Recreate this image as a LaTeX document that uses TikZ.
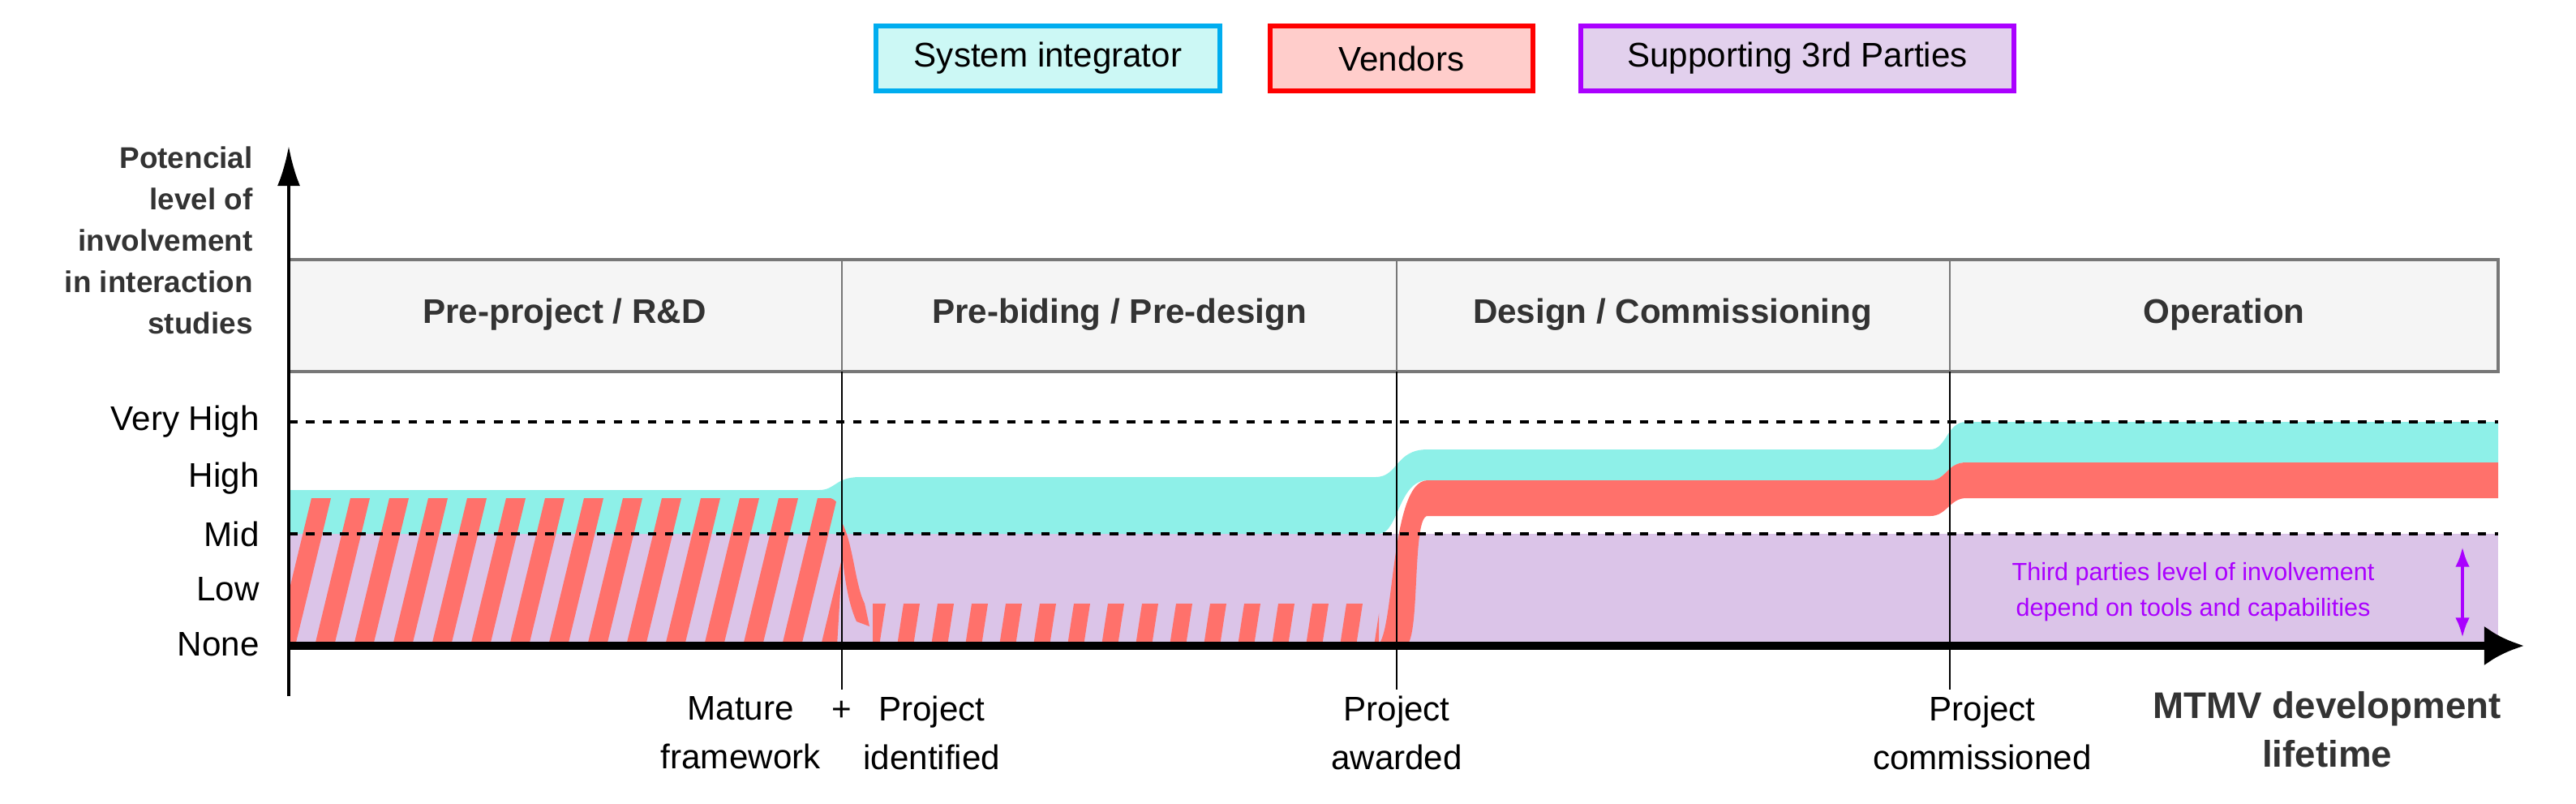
\documentclass[tikz,border=0pt]{standalone}
\usepackage{fontspec}
\setmainfont{Liberation Sans}
\usetikzlibrary{arrows.meta}
\definecolor{cy}{HTML}{8EF0E8}
\definecolor{rd}{HTML}{FF716B}
\definecolor{pu}{HTML}{DBC4E8}
\definecolor{ann}{HTML}{AA00FF}
\definecolor{hdr}{HTML}{F5F5F5}
\definecolor{hdrb}{HTML}{777777}
\definecolor{ttl}{HTML}{333333}
\begin{document}
\begin{tikzpicture}[x=0.02cm,y=-0.02cm,
  lvl/.style={anchor=east,font=\fontsize{12}{14}\selectfont},
  hdrt/.style={font=\bfseries\fontsize{12}{14}\selectfont,text=ttl},
  mile/.style={align=center,font=\fontsize{12}{17}\selectfont},
  leg/.style={draw,line width=1.6pt,minimum height=0.8cm,inner xsep=2pt,font=\fontsize{12}{14}\selectfont},
  lvldash/.style={dash pattern=on 3pt off 3pt,line width=1pt},
  div/.style={line width=0.6pt}]
\useasboundingbox (0,0) rectangle (1588,495);
% legend
\node[leg,fill=cy!45,draw=cyan,minimum width=4.24cm] (l1) at (646,36) {System integrator};
\node[leg,fill=rd!35,draw=red,minimum width=3.24cm] (l2) at (864,36) {Vendors};
\node[leg,fill=pu!80,draw=ann,minimum width=5.34cm] (l3) at (1108,36) {Supporting 3rd Parties};
% header
\draw[draw=hdrb,fill=hdr,line width=1.2pt] (178,160) rectangle (1540,229);
\foreach \x in {519,861,1202} \draw[div,hdrb] (\x,160) -- (\x,229);
\node[hdrt] (h1) at (348,194) {Pre-project / R\&D};
\node[hdrt] (h2) at (690,194) {Pre-biding / Pre-design};
\node[hdrt] (h3) at (1031,194) {Design / Commissioning};
\node[hdrt] (h4) at (1371,194) {Operation};
% purple region
\fill[pu] (178,329) rectangle (1540,398);
% cyan
\fill[cy] (178,302) -- (505,302) .. controls (515,302) and (515,294) .. (530,294) -- (848,294)
  .. controls (862,294) and (860,277) .. (880,277) -- (1190,277)
  .. controls (1200,277) and (1200,260) .. (1212,260) -- (1540,260) -- (1540,285) -- (1212,285)
  .. controls (1200,285) and (1200,296) .. (1190,296) -- (880,296)
  .. controls (862,296) and (862,329) .. (850,329) -- (178,329) -- cycle;
% red band phases 3-4
\fill[rd] (848,398) .. controls (860,398) and (856,296) .. (880,296) -- (1190,296)
  .. controls (1200,296) and (1200,285) .. (1212,285) -- (1540,285) -- (1540,307) -- (1212,307)
  .. controls (1202,307) and (1200,318) .. (1190,318) -- (880,318)
  .. controls (870,318) and (876,398) .. (866,398) -- cycle;
% hatch phase 1
\begin{scope}
\clip (178,307) -- (512,307) .. controls (522,310) and (520,330) .. (516,398) -- (178,398) -- cycle;
\foreach \i in {0,...,14} {
  \fill[rd] ({170+24*\i},398) -- ({182+24*\i},398) -- ({204+24*\i},307) -- ({192+24*\i},307) -- cycle;}
\end{scope}
% red sliver after divider
\fill[rd] (519,322) .. controls (526,335) and (527,360) .. (533,372) -- (536,386) -- (528,383) .. controls (522,370) and (520,350) .. (519,340) -- cycle;
% hatch phase 2
\begin{scope}
\clip (538,372) rectangle (850,398);
\foreach \i in {0,...,15} {
  \fill[rd] ({532+21*\i},398) -- ({542+21*\i},398) -- ({546+21*\i},372) -- ({536+21*\i},372) -- cycle;}
\end{scope}
% dashed levels
\draw[lvldash] (178,260) -- (1540,260);
\draw[lvldash] (178,329) -- (1540,329);
% dividers
\foreach \x in {519,861,1202} \draw[div] (\x,229) -- (\x,425);
% axes
\coordinate (o) at (178,398);
\coordinate (ytop) at (178,90);
\coordinate (xend) at (1556,398);
\draw[line width=1.2pt,-{Latex[length=14pt,width=8pt]}] (178,429) -- (ytop);
\draw[line width=2.6pt,-{Latex[length=14pt,width=14pt]}] (o) -- (xend);
% level labels
\node[lvl] (vh) at (166,260) {Very High};
\node[lvl] (hi) at (166,295) {High};
\node[lvl] (mi) at (166,329) {Mid};
\node[lvl] (lo) at (166,363) {Low};
\node[lvl] (no) at (166,397) {None};
% y title
\node[anchor=east,align=right,font=\bfseries\fontsize{10.5}{14.5}\selectfont,text=ttl] (yt) at (162,148)
  {Potencial\\level of\\involvement\\in interaction\\studies};
% milestones
\node[mile,anchor=north east] (m1a) at (512,423) {Mature\\framework};
\node[mile,anchor=north] (m1p) at (519,423) {\vphantom{Mj}+};
\node[mile,anchor=north west] (m1b) at (526,423) {Project\\identified};
\node[mile,anchor=north] (m2) at (861,423) {Project\\awarded};
\node[mile,anchor=north] (m3) at (1222,423) {Project\\commissioned};
\node[anchor=north east,align=center,font=\bfseries\fontsize{13}{17}\selectfont,text=ttl] (xt) at (1548,420) {MTMV development\\lifetime};
% annotation
\node[align=center,text=ann,font=\fontsize{8.7}{12.5}\selectfont] (an) at (1352,365) {Third parties level of involvement\\depend on tools and capabilities};
\coordinate (at) at (1518,337);
\coordinate (ab) at (1518,393);
\draw[ann,line width=1.2pt,{Latex[length=7pt,width=5pt]}-{Latex[length=7pt,width=5pt]}] (at) -- (ab);
\end{tikzpicture}
\end{document}
